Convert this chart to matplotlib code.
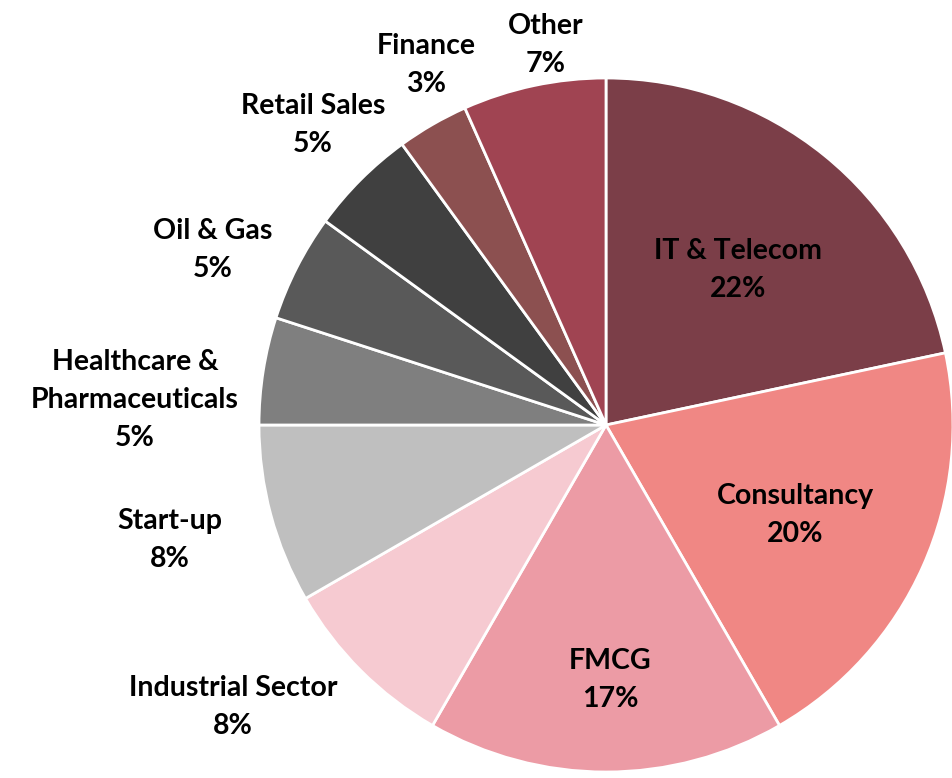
import matplotlib.pyplot as plt
import matplotlib.patheffects as pe

sectors = ['IT & Telecom', 'Consultancy', 'FMCG', 'Industrial Sector', 'Start-up',
           'Healthcare &\nPharmaceuticals', 'Oil & Gas', 'Retail Sales', 'Finance', 'Other']
counts = [13, 12, 10, 5, 5, 3, 3, 3, 2, 4]
colors = ['#7B3E48', '#F08784', '#EC9BA5', '#F6CAD1', '#BFBFBF',
          '#7F7F7F', '#595959', '#404040', '#8C5050', '#A04452']

# label centres in pixel coords (x, y from top)
label_xy = [(738, 270), (795, 515), (610, 680), (233, 707), (170, 540),
            (135, 400), (213, 250), (313, 125), (426, 65), (546, 45)]

W, H = 952, 778
cx, cy, r = 606, 425, 347

fig = plt.figure(figsize=(W / 100, H / 100), dpi=100)
ax = fig.add_axes([0, 0, 1, 1])

wedges, _ = ax.pie(counts, colors=colors, startangle=90, counterclock=False,
                   center=(cx, H - cy), radius=r, frame=True,
                   wedgeprops=dict(edgecolor='white', linewidth=2))
for w in wedges:
    w.set_path_effects([pe.SimplePatchShadow(offset=(0, 0), shadow_rgbFace='#999999', alpha=0.25),
                        pe.Normal()])
ax.set_xlim(0, W)
ax.set_ylim(0, H)
ax.set_aspect('equal')
ax.axis('off')

total = sum(counts)
for name, c, (x, y) in zip(sectors, counts, label_xy):
    ax.text(x, H - y, f'{name}\n{c / total * 100:.0f}%', ha='center', va='center',
            fontsize=20.5, fontweight='bold', family='Lato', linespacing=1.58)

fig.savefig('out.png', dpi=100)
